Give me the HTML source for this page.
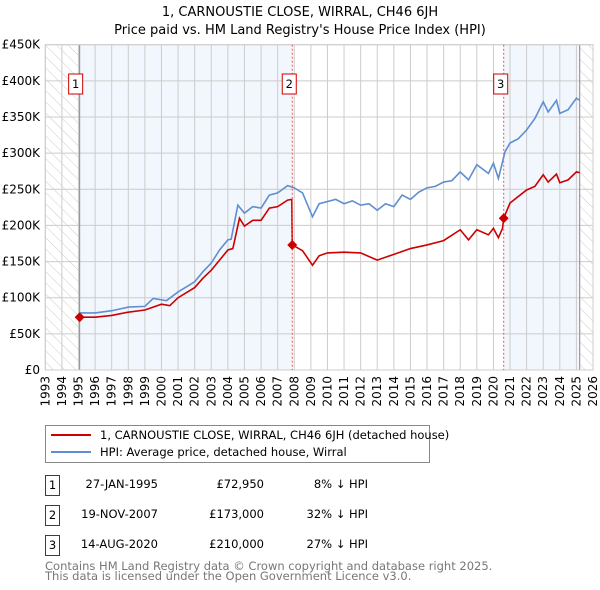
<!DOCTYPE html>
<html><head><meta charset="utf-8"><style>
body{margin:0;background:#fff;width:600px;height:590px;overflow:hidden;font-family:"DejaVu Sans","Liberation Sans",sans-serif}
svg{display:block}
text{font-family:"DejaVu Sans","Liberation Sans",sans-serif}
</style></head><body>
<svg id="chart" width="600" height="590" viewBox="0 0 600 590" xmlns="http://www.w3.org/2000/svg">
<defs>
<pattern id="hatch" width="8" height="8" patternUnits="userSpaceOnUse" patternTransform="rotate(-45)">
<line x1="0" y1="0" x2="0" y2="8" stroke="#ccc" stroke-width="1"/>
</pattern>
</defs>
<text x="300" y="16" text-anchor="middle" font-size="13">1, CARNOUSTIE CLOSE, WIRRAL, CH46 6JH</text>
<text x="300" y="34" text-anchor="middle" font-size="13">Price paid vs. HM Land Registry's House Price Index (HPI)</text>
<g id="grid"></g>
<g id="series"></g>
<g id="marks"></g>
<g>
<rect x="45.5" y="425.5" width="384" height="37" fill="#fff" stroke="#888"/>
<line x1="51" y1="435" x2="91" y2="435" stroke="#cc0000" stroke-width="2"/>
<text x="100" y="439" font-size="11.5">1, CARNOUSTIE CLOSE, WIRRAL, CH46 6JH (detached house)</text>
<line x1="51" y1="452" x2="91" y2="452" stroke="#5e8fd0" stroke-width="2"/>
<text x="100" y="456" font-size="11.5">HPI: Average price, detached house, Wirral</text>
</g>
<g font-size="11.5">
<rect x="45.5" y="475.5" width="14" height="20" fill="none" stroke="#cc0000"/><text x="52.5" y="489" text-anchor="middle">1</text>
<text x="158" y="488" text-anchor="end">27-JAN-1995</text><text x="264" y="488" text-anchor="end">£72,950</text><text x="368" y="488" text-anchor="end">8% ↓ HPI</text>
<rect x="45.5" y="505.5" width="14" height="20" fill="none" stroke="#cc0000"/><text x="52.5" y="519" text-anchor="middle">2</text>
<text x="158" y="518" text-anchor="end">19-NOV-2007</text><text x="264" y="518" text-anchor="end">£173,000</text><text x="368" y="518" text-anchor="end">32% ↓ HPI</text>
<rect x="45.5" y="535.5" width="14" height="20" fill="none" stroke="#cc0000"/><text x="52.5" y="549" text-anchor="middle">3</text>
<text x="158" y="548" text-anchor="end">14-AUG-2020</text><text x="264" y="548" text-anchor="end">£210,000</text><text x="368" y="548" text-anchor="end">27% ↓ HPI</text>
</g>
<text x="45" y="570" font-size="11.5" fill="#777">Contains HM Land Registry data © Crown copyright and database right 2025.</text>
<text x="45" y="580" font-size="11.5" fill="#777">This data is licensed under the Open Government Licence v3.0.</text>
</svg>
<script>
const yTicks=[0,50,100,150,200,250,300,350,400,450];
const yTickLabels=["£0","£50K","£100K","£150K","£200K","£250K","£300K","£350K","£400K","£450K"];
const xYears=[1993,1994,1995,1996,1997,1998,1999,2000,2001,2002,2003,2004,2005,2006,2007,2008,2009,2010,2011,2012,2013,2014,2015,2016,2017,2018,2019,2020,2021,2022,2023,2024,2025,2026];
const hpiT=[1995.07,1996,1997,1998,1999,1999.5,2000.3,2001,2002,2002.5,2003,2003.5,2004,2004.2,2004.6,2005,2005.5,2006,2006.5,2007,2007.6,2008,2008.5,2009.1,2009.5,2010,2010.5,2011,2011.5,2012,2012.5,2013,2013.5,2014,2014.5,2015,2015.5,2016,2016.5,2017,2017.5,2018,2018.5,2019,2019.7,2020,2020.3,2020.7,2021,2021.5,2022,2022.5,2023,2023.3,2023.8,2024,2024.5,2025,2025.2];
const hpiV=[79,79,82,87,88,99,96,108,122,136,148,166,180,181,228,217,226,224,242,245,255,252,245,212,230,233,236,230,234,228,230,221,230,226,242,236,246,252,254,260,262,274,263,284,272,286,265,302,314,320,332,348,371,357,373,355,360,376,373];
const redT=[1995.07,1996,1997,1998,1999,2000,2000.5,2001,2002,2002.5,2003,2003.5,2004,2004.3,2004.7,2005,2005.5,2006,2006.5,2007,2007.6,2007.85,2007.88,2008.5,2009.1,2009.5,2010,2011,2012,2013,2014,2014.5,2015,2016,2017,2018,2018.5,2019,2019.7,2020,2020.3,2020.55,2020.62,2021,2022,2022.5,2023,2023.3,2023.8,2024,2024.5,2025,2025.2];
const redV=[73,73,75.5,80,83,91,89,100,114,127,138,152,166,168,210,199,207,207,224,226,235,236,173,165,145,158,162,163,162,152,160,164,168,173,179,194,180,194,187,196,183,196,210,231,249,254,270,260,271,259,263,274,273];
const saleT=[1995.07,2007.88,2020.62];
const saleV=[72.95,173,210];
const saleLabels=["1","2","3"];
const NS="http://www.w3.org/2000/svg";
const L=45.3,R=593,T=44.7,B=370;
const x=t=>L+(t-1993)*(R-L)/33;
const y=v=>B-v*(B-T)/450;
function mk(tag,attrs,parent){const e=document.createElementNS(NS,tag);for(const k in attrs)e.setAttribute(k,attrs[k]);parent.appendChild(e);return e;}
const grid=document.getElementById('grid');
let r=mk('rect',{x:L,y:T,width:R-L,height:B-T,fill:'#fff'},grid);


r=mk('rect',{x:x(1995.07),y:T,width:x(2007.88)-x(1995.07),height:B-T,fill:'#f2f6fd'},grid);


r=mk('rect',{x:x(2020.62),y:T,width:x(2025.2)-x(2020.62),height:B-T,fill:'#f2f6fd'},grid);


yTicks.forEach((v,i)=>{
 mk('line',{x1:L,x2:R,y1:y(v),y2:y(v),stroke:'#ccc'},grid);
 const t=mk('text',{x:40,y:y(v)+4,'text-anchor':'end','font-size':12},grid);
 t.textContent=yTickLabels[i];
 
 
});
xYears.forEach(yr=>{
 mk('line',{x1:x(yr),x2:x(yr),y1:T,y2:B,stroke:'#ccc'},grid);
 const t=mk('text',{x:0,y:0,'font-size':12,'text-anchor':'end',transform:`translate(${x(yr)+4},${B+6}) rotate(-90)`},grid);
 t.textContent=yr;
 
 
});
r=mk('rect',{x:L,y:T,width:x(1995.07)-L,height:B-T,fill:'url(#hatch)'},grid);


r=mk('rect',{x:x(2025.2),y:T,width:R-x(2025.2),height:B-T,fill:'url(#hatch)'},grid);


mk('line',{x1:x(1995.07),x2:x(1995.07),y1:T,y2:B,stroke:'#888'},grid);
mk('line',{x1:x(2025.2),x2:x(2025.2),y1:T,y2:B,stroke:'#888'},grid);
mk('rect',{x:L,y:T,width:R-L,height:B-T,fill:'none',stroke:'#ccc'},grid);
const ser=document.getElementById('series');
let p=mk('polyline',{points:hpiT.map((t,i)=>x(t)+','+y(hpiV[i])).join(' '),fill:'none',stroke:'#5e8fd0','stroke-width':1.6},ser);


p=mk('polyline',{points:redT.map((t,i)=>x(t)+','+y(redV[i])).join(' '),fill:'none',stroke:'#cc0000','stroke-width':1.6},ser);


const marks=document.getElementById('marks');
saleT.forEach((t,i)=>{
 const X=x(t),Y=y(saleV[i]);
 if(i>0)mk('line',{x1:X,x2:X,y1:T,y2:B,stroke:'#e55','stroke-dasharray':'2,2'},marks);
 const d=mk('path',{d:`M${X-5},${Y} L${X},${Y-5} L${X+5},${Y} L${X},${Y+5} Z`,fill:'#cc0000'},marks);
 
 
 const bx=X-(i==0?4:3)-7;
 const b=mk('rect',{x:bx,y:74,width:14,height:20,fill:'#fff',stroke:'#cc0000'},marks);
 
 
 const tx=mk('text',{x:bx+7,y:88,'text-anchor':'middle','font-size':11.5},marks);
 tx.textContent=saleLabels[i];
 
 
});
</script>
</body></html>
